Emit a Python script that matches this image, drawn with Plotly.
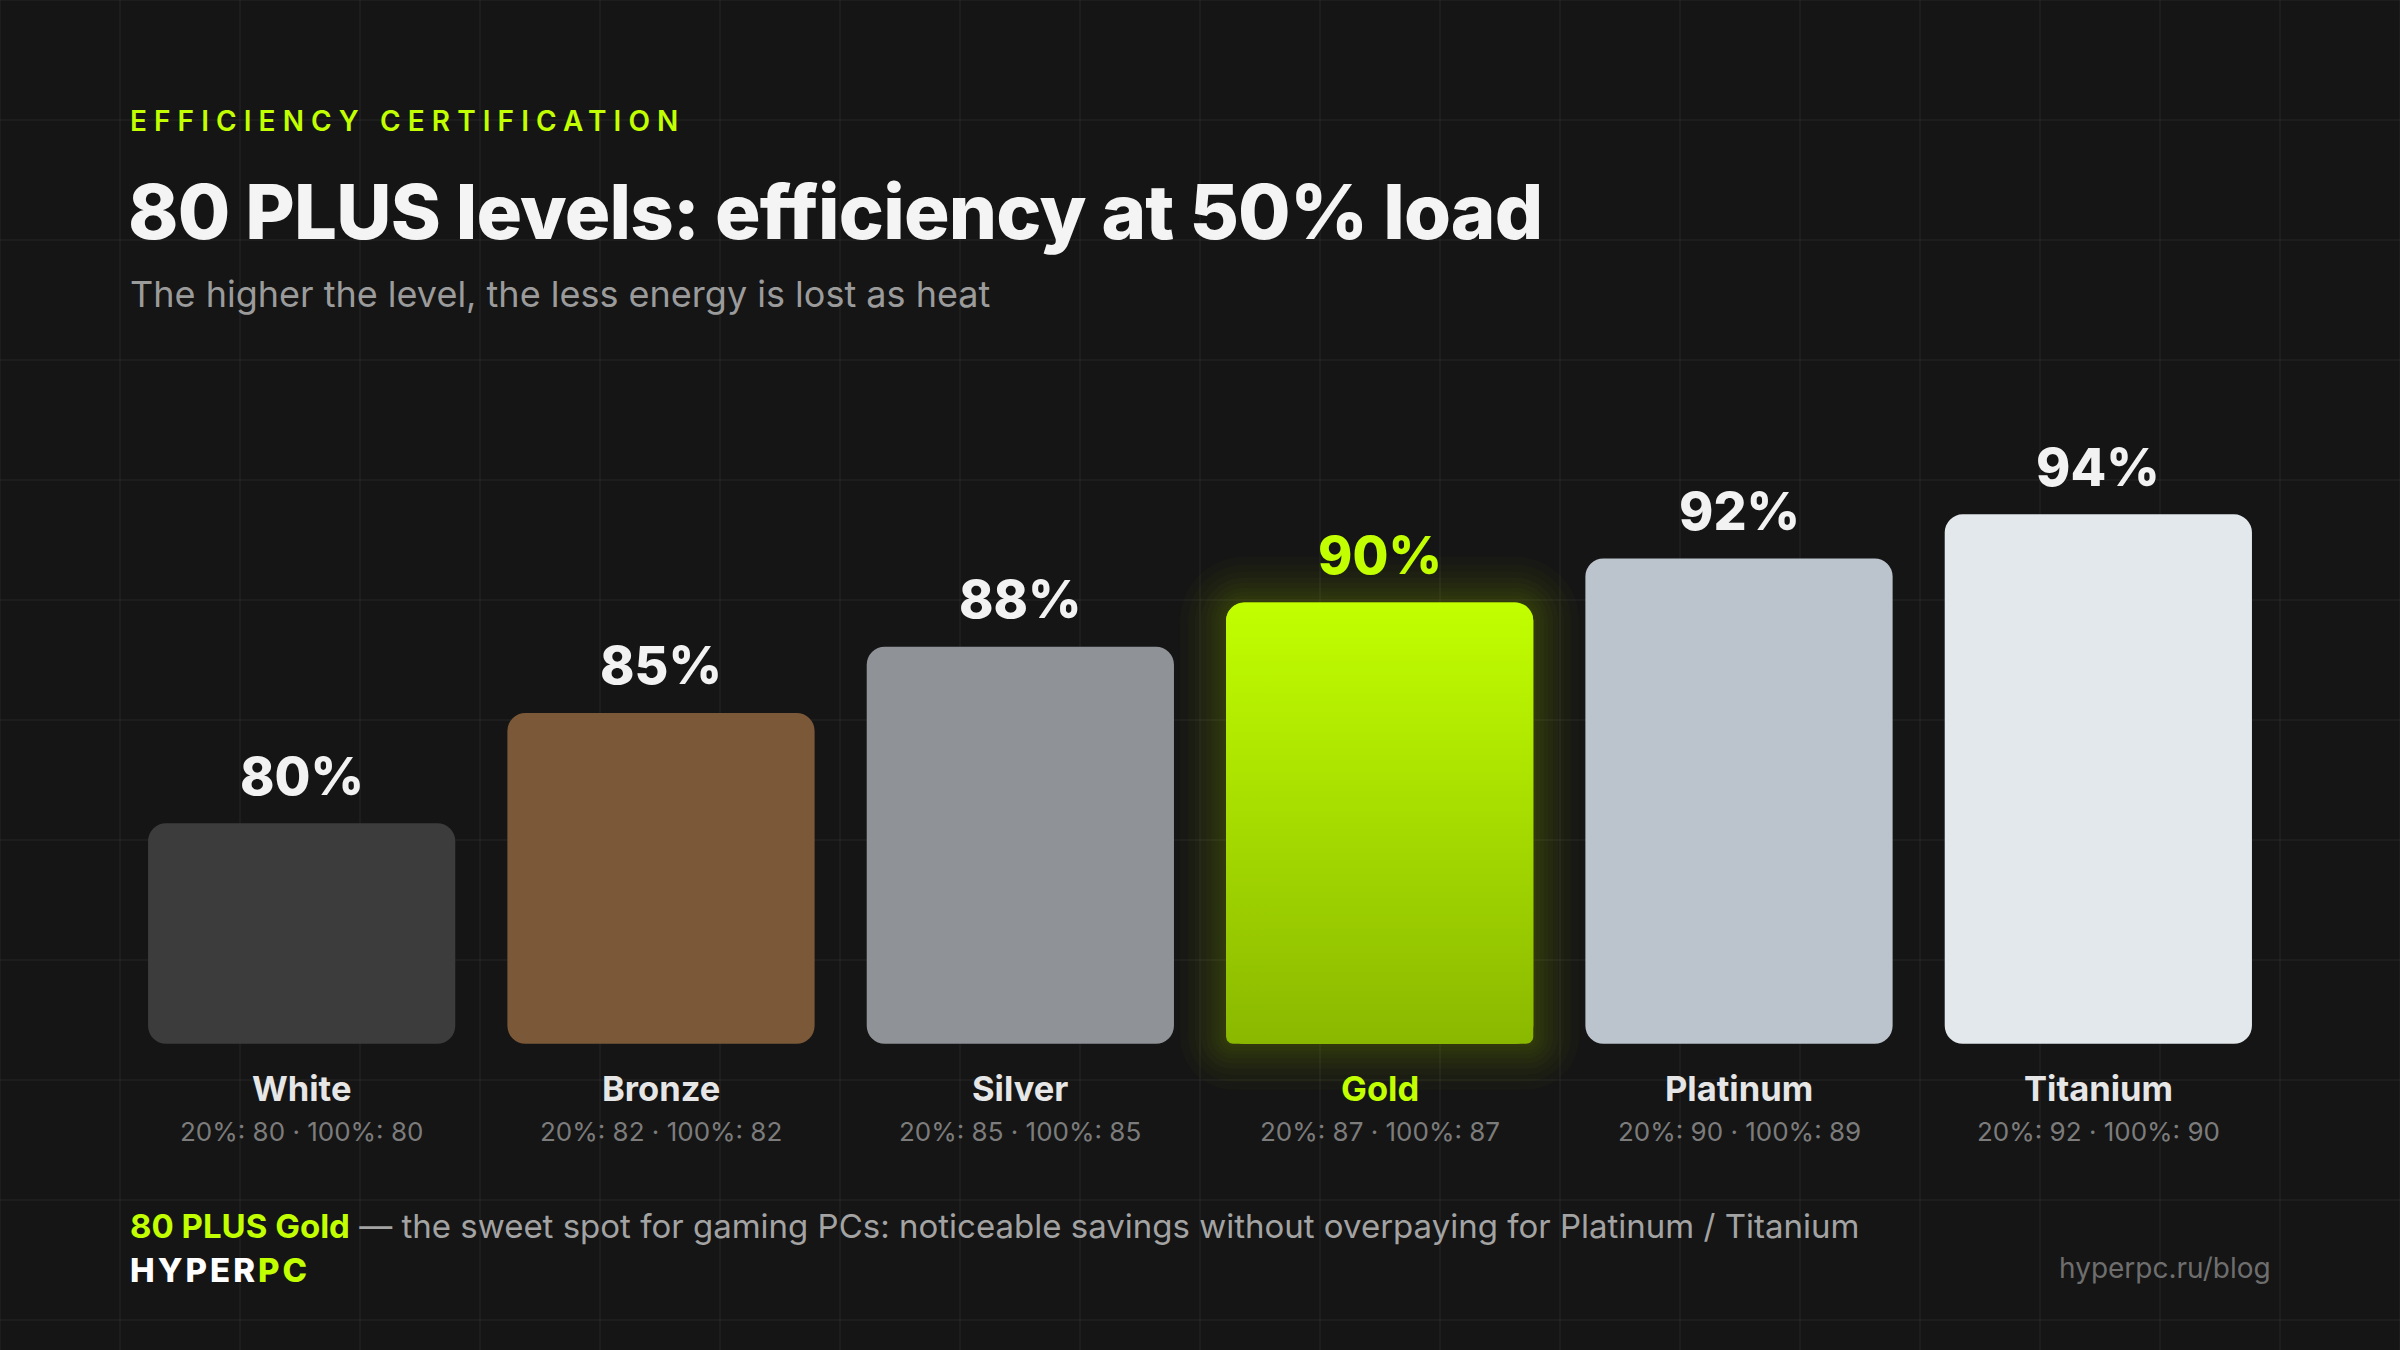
import numpy as np
import plotly.graph_objects as go

# ---------------- data ----------------
levels = ["White", "Bronze", "Silver", "Gold", "Platinum", "Titanium"]
eff50 = [80, 85, 88, 90, 92, 94]          # efficiency at 50% load
eff20 = [80, 82, 85, 87, 90, 92]          # efficiency at 20% load
eff100 = [80, 82, 85, 87, 89, 90]         # efficiency at 100% load
bar_colors = ["#3c3c3c", "#7a5838", "#8f9397", "#a6dc00", "#bbc4cc", "#e2e8ec"]
highlight = "Gold"

eyebrow = "EFFICIENCY CERTIFICATION"
title = "80 PLUS levels: efficiency at 50% load"
subtitle = "The higher the level, the less energy is lost as heat"
note_bold = "80 PLUS Gold"
note_rest = " — the sweet spot for gaming PCs: noticeable savings without overpaying for Platinum / Titanium"
brand_a, brand_b = "HYPER", "PC"
source = "hyperpc.ru/blog"

# ---------------- layout geometry ----------------
FIG_W, FIG_H = 2400, 1350
ML, MR, MT, MB = 122, 122, 382, 240
PW, PH = FIG_W - ML - MR, FIG_H - MT - MB
BASE = 70
Y0, Y1 = 67, 100
X0, X1 = -0.5, len(levels) - 0.5
BAR_W = 0.855
px_x = PW / (X1 - X0)
px_y = PH / (Y1 - Y0)

LIME = "#c2ff00"
BG = "#151515"
FONT = "Inter"


def paper_x(px):
    return (px - ML) / PW


def paper_y(py):
    return (FIG_H - MB - py) / PH


def rrect(cx, top, bottom, half_w, r_top, r_bot, pad=0.0, n=14):
    hx = half_w + pad / px_x
    yt = top + pad / px_y
    yb = bottom - pad / px_y
    rt, rb = r_top + pad, r_bot + pad
    xs, ys = [], []
    corners = [
        (cx + hx - rt / px_x, yt - rt / px_y, rt, 0.0, np.pi / 2),
        (cx - hx + rt / px_x, yt - rt / px_y, rt, np.pi / 2, np.pi),
        (cx - hx + rb / px_x, yb + rb / px_y, rb, np.pi, 1.5 * np.pi),
        (cx + hx - rb / px_x, yb + rb / px_y, rb, 1.5 * np.pi, 2 * np.pi),
    ]
    for ccx, ccy, r, a0, a1 in corners:
        t = np.linspace(a0, a1, n)
        xs += list(ccx + r * np.cos(t) / px_x)
        ys += list(ccy + r * np.sin(t) / px_y)
    xs.append(xs[0])
    ys.append(ys[0])
    return xs, ys


fig = go.Figure()

xpos = list(range(len(levels)))
gi = levels.index(highlight)

# glow behind highlighted bar
for pad in [3, 7, 11, 15, 20, 25, 31, 38, 46]:
    gx, gy = rrect(xpos[gi], eff50[gi], BASE, BAR_W / 2, 18, 7, pad=pad)
    fig.add_trace(go.Scatter(x=gx, y=gy, mode="lines", fill="toself",
                             fillcolor="rgba(190,255,0,0.02)",
                             line=dict(width=0), hoverinfo="skip", showlegend=False))

# bars
fig.add_trace(go.Bar(
    x=xpos, y=[v - BASE for v in eff50], base=BASE, width=BAR_W,
    marker=dict(color=bar_colors, line=dict(width=0)),
    hoverinfo="skip", showlegend=False,
))

# gradient fill for highlighted bar
hx, hy = rrect(xpos[gi], eff50[gi], BASE, BAR_W / 2, 18, 7)
fig.add_trace(go.Scatter(
    x=hx, y=hy, mode="lines", fill="toself", line=dict(width=0),
    fillgradient=dict(type="vertical", colorscale=[[0, "#8ab800"], [1, "#c2ff00"]],
                      start=BASE, stop=eff50[gi]),
    hoverinfo="skip", showlegend=False,
))

annotations = []


def ann(text, x, y, size, color, weight=400, xanchor="left", yanchor="middle",
        xref="paper", yref="paper", yshift=0):
    annotations.append(dict(
        text=text, x=x, y=y, xref=xref, yref=yref, xanchor=xanchor, yanchor=yanchor,
        showarrow=False, yshift=yshift,
        font=dict(family=FONT, size=size, color=color, weight=weight),
    ))


# header
ann(f"<span style='letter-spacing:7.1px'>{eyebrow}</span>", paper_x(128), paper_y(121), 28, LIME, 600)
ann(f"<span style='letter-spacing:-0.8px'>{title}</span>", paper_x(126), paper_y(211), 76, "#f4f4f4", 800)
ann(subtitle, paper_x(128), paper_y(294), 36, "#9b9b9b", 400)

# value labels and category labels
for i, (lvl, v) in enumerate(zip(levels, eff50)):
    col = LIME if lvl == highlight else "#f2f2f2"
    ann(f"{v}%", xpos[i], v, 52, col, 800, xanchor="center", yanchor="middle",
        xref="x", yref="y", yshift=47)
    ann(lvl, xpos[i], paper_y(1088), 34.5, LIME if lvl == highlight else "#e6e6e6", 700,
        xanchor="center", xref="x")
    ann(f"20%: {eff20[i]} · 100%: {eff100[i]}", xpos[i], paper_y(1131), 26, "#7c7c7c", 400,
        xanchor="center", xref="x")

# footer
ann(f"<b style='color:{LIME}'>{note_bold}</b><span style='color:#a3a3a3'>{note_rest}</span>",
    paper_x(128), paper_y(1226), 33, "#a3a3a3", 400)
ann(f"<span style='letter-spacing:3px'>{brand_a}<span style='color:{LIME}'>{brand_b}</span></span>",
    paper_x(128), paper_y(1270), 33, "#ffffff", 800)
ann(source, paper_x(2273), paper_y(1268), 28, "#6e6e6e", 400, xanchor="right")

# background grid
shapes = []
for gxp in range(0, FIG_W + 1, 120):
    shapes.append(dict(type="line", xref="paper", yref="paper",
                       x0=paper_x(gxp), x1=paper_x(gxp), y0=paper_y(0), y1=paper_y(FIG_H),
                       line=dict(color="rgba(255,255,255,0.035)", width=2), layer="below"))
for gyp in range(0, FIG_H + 1, 120):
    shapes.append(dict(type="line", xref="paper", yref="paper",
                       x0=paper_x(0), x1=paper_x(FIG_W), y0=paper_y(gyp), y1=paper_y(gyp),
                       line=dict(color="rgba(255,255,255,0.035)", width=2), layer="below"))

fig.update_layout(
    width=FIG_W, height=FIG_H,
    margin=dict(l=ML, r=MR, t=MT, b=MB, pad=0),
    paper_bgcolor=BG, plot_bgcolor="rgba(0,0,0,0)",
    barmode="overlay", barcornerradius=18,
    xaxis=dict(range=[X0, X1], visible=False, fixedrange=True),
    yaxis=dict(range=[Y0, Y1], visible=False, fixedrange=True),
    annotations=annotations, shapes=shapes,
    showlegend=False, hovermode=False,
    font=dict(family=FONT),
)

fig.write_html("out.html", config={"displayModeBar": False})
